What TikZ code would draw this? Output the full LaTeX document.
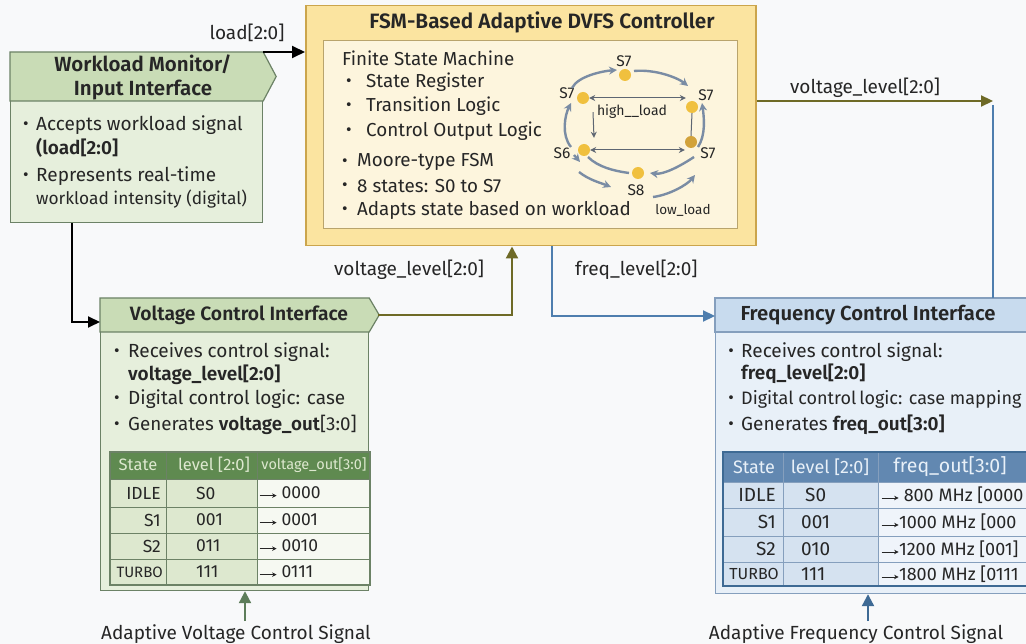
\documentclass[tikz,border=0pt]{standalone}
\usepackage{fontspec}
\setmainfont{Fira Sans}[BoldFont={Fira Sans SemiBold}]
\usetikzlibrary{arrows.meta}

\definecolor{bg}{HTML}{F8F9FA}
\definecolor{txt}{HTML}{262626}
\definecolor{gHead}{HTML}{C9DCB6}
\definecolor{gBody}{HTML}{E6EFDC}
\definecolor{gLine}{HTML}{6C8266}
\definecolor{yOuter}{HTML}{FBE4A0}
\definecolor{yOuterLine}{HTML}{CBA54C}
\definecolor{yInner}{HTML}{FDF5DD}
\definecolor{yInnerLine}{HTML}{B9A46C}
\definecolor{bHead}{HTML}{C8DBEE}
\definecolor{bBody}{HTML}{E8F0F8}
\definecolor{bLine}{HTML}{859FBD}
\definecolor{gTabHead}{HTML}{5F8A50}
\definecolor{gTabCell}{HTML}{DDE8CF}
\definecolor{gTabOut}{HTML}{F6F9F2}
\definecolor{bTabHead}{HTML}{6288B1}
\definecolor{bTabCell}{HTML}{D5E2F0}
\definecolor{bTabOut}{HTML}{EFF4FA}
\definecolor{olive}{HTML}{6E6A26}
\definecolor{wireBlue}{HTML}{4E7EAE}
\definecolor{sigGreen}{HTML}{5D7D5A}
\definecolor{sigBlue}{HTML}{3E6A94}
\definecolor{arcGray}{HTML}{7A8CA4}
\definecolor{fineGray}{HTML}{5E6672}
\definecolor{stateDot}{HTML}{F0C03E}
\definecolor{stateDotDark}{HTML}{D2A23A}

% thin arrow used inside the mapping tables
\newcommand\maparrow{\tikz[baseline=-0.35ex,x=1pt,y=1pt]\draw[line width=0.8pt,-{Stealth[length=4.5pt,width=4.5pt]}] (0,0) -- (17,0);}

\tikzset{
  body/.style={font=\fontsize{19}{22}\selectfont, text=txt, inner sep=0pt, anchor=west},
  fbody/.style={font=\fontsize{18.8}{22}\selectfont, text=txt, inner sep=0pt, anchor=west},
  small/.style={font=\fontsize{17.3}{20}\selectfont, text=txt, inner sep=0pt, anchor=west},
  ttl/.style={font=\fontsize{20.5}{24}\selectfont\bfseries, text=txt, inner sep=0pt, align=center},
  wire/.style={font=\fontsize{19}{22}\selectfont, text=txt, inner sep=0pt},
  bul/.style={font=\fontsize{17}{19}\selectfont, text=txt, inner sep=0pt},
  cell/.style={font=\fontsize{17.5}{20}\selectfont, text=txt, inner sep=0pt},
  bcell/.style={font=\fontsize{19}{22}\selectfont, text=txt, inner sep=0pt},
  ocell/.style={font=\fontsize{18}{21}\selectfont, text=txt, inner sep=0pt, anchor=west},
  hcell/.style={font=\fontsize{16.5}{19}\selectfont, inner sep=0pt},
  dot/.style={circle, minimum size=12pt, inner sep=0pt, fill=stateDot},
  slbl/.style={font=\fontsize{15.5}{18}\selectfont, text=txt, inner sep=0pt},
  arc/.style={draw=arcGray, line width=2.4pt, -{Stealth[length=8pt,width=8pt]}},
  arcplain/.style={draw=arcGray, line width=2.4pt},
  fine/.style={draw=fineGray, line width=1pt},
  finetip/.style={-{Stealth[length=6pt,width=6pt]}},
  bigtip/.style={-{Triangle[length=13pt,width=12pt]}},
}

\begin{document}
\begin{tikzpicture}[x=1pt,y=-1pt]
\useasboundingbox (0,0) rectangle (1026,644);
\clip (0,0) rectangle (1026,644);
\fill[bg] (0,0) rectangle (1026,644);

% ---------------- Workload monitor ----------------
\node[draw=gLine, fill=gBody, line width=1.2pt, minimum width=252pt, minimum height=170pt,
      anchor=north west, inner sep=0pt] (wm) at (10,52) {};
\draw[draw=gLine, fill=gHead, line width=1.2pt]
  (wm.north west) -- (wm.north east) -- ++(13,24.5) -- ++(-13,24.5) -- ([yshift=-49pt]wm.north west) -- cycle;
\node[ttl] (wmh) at (143,77) {Workload Monitor/\\Input Interface};
\node[bul] (wb1) at (26,126) {\textbullet};
\node[body] (wt1) at (36,125) {Accepts workload signal};
\node[body] (wt2) at (36,148) {\textbf{(load[2:0]}};
\node[bul] (wb2) at (26,177) {\textbullet};
\node[body] (wt3) at (36,176) {Represents real-time};
\node[small] (wt4) at (36,199) {workload intensity (digital)};

% ---------------- FSM controller ----------------
\node[draw=yOuterLine, fill=yOuter, line width=1.5pt, minimum width=450pt, minimum height=240pt,
      anchor=north west, inner sep=0pt] (fsm) at (305,5) {};
\node[draw=yInnerLine, fill=yInner, line width=1.2pt, minimum width=414pt, minimum height=188pt,
      anchor=north west, inner sep=0pt] (fsmin) at (323,40) {};
\node[ttl, font=\fontsize{20.8}{24}\selectfont\bfseries] (fsmt) at (542,22) {FSM-Based Adaptive DVFS Controller};
\node[fbody] (f0) at (342,58) {Finite State Machine};
\node[bul] (fb1) at (349,83) {\textbullet};
\node[fbody] (f1) at (366,82) {State Register};
\node[bul] (fb2) at (349,107) {\textbullet};
\node[fbody] (f2) at (366,106) {Transition Logic};
\node[bul] (fb3) at (349,132) {\textbullet};
\node[fbody] (f3) at (366,131) {Control Output Logic};
\node[bul] (fb4) at (345,163) {\textbullet};
\node[fbody] (f4) at (357,162) {Moore-type FSM};
\node[bul] (fb5) at (345,187) {\textbullet};
\node[fbody] (f5) at (357,186) {8 states: S0 to S7};
\node[bul] (fb6) at (345,211) {\textbullet};
\node[fbody] (f6) at (357,210) {Adapts state based on workload};

% state diagram
\node[dot] (n0) at (625,75) {};
\node[dot] (n1) at (583,98) {};
\node[dot] (n2) at (692,107) {};
\node[dot, fill=stateDotDark] (n3) at (691,142) {};
\node[dot] (n4) at (584,150) {};
\node[dot] (n5) at (638,173) {};
\node[slbl] (l0) at (624,61) {S7};
\node[slbl] (l1) at (567,93) {S7};
\node[slbl] (l2) at (706,95) {S7};
\node[slbl] (l3) at (708,153) {S7};
\node[slbl] (l4) at (562,153) {S6};
\node[slbl] (l5) at (636,190) {S8};
\node[slbl, font=\fontsize{14}{16}\selectfont] (hl) at (632,112) {high\_\_load};
\node[slbl, font=\fontsize{13.5}{16}\selectfont] (ll) at (683,210) {low\_load};

\draw[fine, {Stealth[length=6pt,width=6pt]}-{Stealth[length=6pt,width=6pt]}] (n1.east) -- (n1.east -| n2.west);
\draw[fine, finetip] ([shift={(10pt,-8pt)}]n1.south) -- ([shift={(10pt,6pt)}]n4.north);
\draw[fine, {Stealth[length=6pt,width=6pt]}-{Stealth[length=6pt,width=6pt]}] (n4.east) -- (n4.east -| n3.west);
\draw[fine] (n2.south) -- (n3.north);

\draw[arc] ([shift={(-11pt,10pt)}]n1.center) .. controls +(6pt,12pt) and +(-14pt,-1pt) .. ([shift={(-8pt,5pt)}]n0.center);
\draw[arc] ([shift={(9pt,4pt)}]n0.center) .. controls +(22pt,2pt) and +(-10pt,8pt) .. ([shift={(-4pt,21pt)}]n2.center);
\draw[arc] ([shift={(7pt,-5pt)}]n3.center) .. controls +(8pt,12pt) and +(2pt,-14pt) .. ([shift={(10pt,4pt)}]n2.center);
\draw[arc] ([shift={(-13pt,3pt)}]n4.center) .. controls +(-10pt,12pt) and +(-6pt,-12pt) .. ([shift={(-12pt,-5pt)}]n1.center);
\draw[arcplain] ([shift={(4pt,-7pt)}]n4.center) .. controls +(10pt,-10pt) and +(-15pt,2pt) .. ([shift={(-9pt,0pt)}]n5.center);
\draw[arc] ([shift={(-5pt,-22pt)}]n4.center) .. controls +(10pt,-8pt) and +(-10pt,4pt) .. ([shift={(-27pt,-14pt)}]n5.center);
\draw[arc] ([shift={(-10pt,-5pt)}]n4.center) -- ([shift={(-4pt,-12pt)}]n4.center);
\draw[arc] ([shift={(3pt,-15pt)}]n3.center) .. controls +(-12pt,-8pt) and +(14pt,-2pt) .. ([shift={(12pt,0pt)}]n5.center);
\draw[arc] ([shift={(15pt,-24pt)}]n5.center) .. controls +(16pt,2pt) and +(-8pt,-10pt) .. ([shift={(4pt,-33pt)}]n3.center);

% ---------------- Voltage control interface ----------------
\node[draw=gLine, fill=gBody, line width=1.2pt, minimum width=268pt, minimum height=292pt,
      anchor=north west, inner sep=0pt] (vci) at (100,298) {};
\draw[draw=gLine, fill=gHead, line width=1.2pt]
  (vci.north west) -- (vci.north east) -- ++(10,17) -- ++(-10,17) -- ([yshift=-34pt]vci.north west) -- cycle;
\coordinate (vtip) at (378,315);
\node[ttl, font=\fontsize{19.3}{22}\selectfont\bfseries] (vch) at (239,315) {Voltage Control Interface};
\node[bul] (vb1) at (117,353) {\textbullet};
\node[body] (v1) at (128,352) {Receives control signal:};
\node[body] (v2) at (128,375) {\textbf{voltage\_level[2:0]}};
\node[bul] (vb3) at (117,400) {\textbullet};
\node[body] (v3) at (128,399) {Digital control logic: case};
\node[bul] (vb4) at (117,426) {\textbullet};
\node[body, font=\fontsize{18.8}{22}\selectfont] (v4) at (128,425) {Generates \textbf{voltage\_out}[3:0]};

% voltage mapping table
\fill[gTabHead] (110,452) rectangle (370,479);
\fill[gTabCell] (110,479) rectangle (257,585);
\fill[gTabOut] (257,479) rectangle (370,585);
\foreach \yy in {479,507,533,559} \draw[gLine, line width=0.9pt] (110,\yy) -- (370,\yy);
\foreach \xx in {166,257} \draw[gLine, line width=0.9pt] (\xx,452) -- (\xx,585);
\draw[gLine, line width=1.2pt] (110,452) rectangle (370,585);
\node[hcell, text=gTabCell] (vh1) at (138,465) {State};
\node[hcell, text=gTabCell] (vh2) at (214,465) {level [2:0]};
\node[hcell, text=gTabCell, font=\fontsize{14.5}{17}\selectfont] (vh3) at (314,465) {voltage\_out[3:0]};
\node[cell, anchor=east] (vs1) at (161,493) {IDLE};
\node[cell, anchor=east] (vs2) at (161,520) {S1};
\node[cell, anchor=east] (vs3) at (161,546) {S2};
\node[cell, anchor=east, font=\fontsize{15}{17}\selectfont] (vs4) at (163,572) {TURBO};
\node[cell, anchor=west] (vl1) at (196,493) {S0};
\node[cell, anchor=west] (vl2) at (196,520) {001};
\node[cell, anchor=west] (vl3) at (196,546) {011};
\node[cell, anchor=west] (vl4) at (196,572) {111};
\node[cell, anchor=west] (vo1) at (259,493) {\maparrow\ 0000};
\node[cell, anchor=west] (vo2) at (259,520) {\maparrow\ 0001};
\node[cell, anchor=west] (vo3) at (259,546) {\maparrow\ 0010};
\node[cell, anchor=west] (vo4) at (259,572) {\maparrow\ 0111};

\node[wire] (vsig) at (236,634) {Adaptive Voltage Control Signal};
\coordinate (vsigtop) at (245,621);
\draw[sigGreen, line width=2.2pt, -{Triangle[length=12pt,width=12pt]}] (vsigtop) -- (vsigtop |- vci.south);

% ---------------- Frequency control interface ----------------
\node[draw=bLine, fill=bBody, line width=1.2pt, minimum width=320pt, minimum height=295pt,
      anchor=north west, inner sep=0pt] (fci) at (715,298) {};
\draw[draw=bLine, fill=bHead, line width=1.2pt] (fci.north west) rectangle ([yshift=-34pt]fci.north east);
\node[ttl, font=\fontsize{20.3}{23}\selectfont\bfseries] (fch) at (868,315) {Frequency Control Interface};
\node[bul] (qb1) at (731,353) {\textbullet};
\node[body] (q1) at (741,352) {Receives control signal:};
\node[body] (q2) at (741,374) {\textbf{freq\_level[2:0]}};
\node[bul] (qb3) at (731,400) {\textbullet};
\node[body, font=\fontsize{18}{21}\selectfont] (q3) at (741,399) {Digital control\,logic: case mapping};
\node[bul] (qb4) at (731,426) {\textbullet};
\node[body] (q4) at (741,425) {Generates \textbf{freq\_out[3:0]}};

% frequency mapping table
\fill[bTabHead] (723,452) rectangle (1040,482);
\fill[bTabCell] (723,482) rectangle (878,586);
\fill[bTabOut] (878,482) rectangle (1040,586);
\foreach \yy in {482,508,536,562} \draw[bLine, line width=0.9pt] (723,\yy) -- (1040,\yy);
\foreach \xx in {783,878} \draw[bLine, line width=0.9pt] (\xx,452) -- (\xx,586);
\draw[sigBlue, line width=1.2pt] (723,452) rectangle (1040,586);
\node[hcell, text=bBody, font=\fontsize{18}{21}\selectfont] (qh1) at (754,467) {State};
\node[hcell, text=bBody, font=\fontsize{18}{21}\selectfont] (qh2) at (830,467) {level [2:0]};
\node[hcell, text=bBody, font=\fontsize{19.5}{22}\selectfont] (qh3) at (950,467) {freq\_out[3:0]};
\node[bcell, anchor=east] (qs1) at (776,495) {IDLE};
\node[bcell, anchor=east] (qs2) at (776,522) {S1};
\node[bcell, anchor=east] (qs3) at (776,549) {S2};
\node[bcell, anchor=east, font=\fontsize{16}{18}\selectfont] (qs4) at (779,574) {TURBO};
\node[bcell, anchor=west] (ql1) at (805,495) {S0};
\node[bcell, anchor=west] (ql2) at (801,522) {001};
\node[bcell, anchor=west] (ql3) at (801,549) {010};
\node[bcell, anchor=west] (ql4) at (801,574) {111};
\node[ocell] (qo1) at (881,495) {\maparrow\ 800 MHz [0000};
\node[ocell] (qo2) at (881,522) {\maparrow1000 MHz [000};
\node[ocell] (qo3) at (881,549) {\maparrow1200 MHz [001]};
\node[ocell] (qo4) at (881,574) {\maparrow1800 MHz [0111};

\node[wire] (fsig) at (856,634) {Adaptive Frequency Control Signal};
\coordinate (fsigtop) at (868,621);
\draw[sigBlue, line width=2.2pt, -{Triangle[length=12pt,width=12pt]}] (fsigtop) -- (fsigtop |- fci.south);

% ---------------- Signal wires ----------------
\draw[black, line width=2pt, bigtip] (wm.north east) -- (wm.north east -| fsm.west);
\node[wire] (loadlbl) at (247,33) {load[2:0]};

\draw[black, line width=2pt, -{Triangle[length=12pt,width=11pt]}]
  ([xshift=62pt]wm.south west) |- ([yshift=-24pt]vci.north west);

\draw[olive, line width=2.2pt, -{Triangle[length=12pt,width=12pt]}]
  (vtip) -| ([xshift=207pt]fsm.south west);
\node[wire, anchor=west] (vlvl) at (334,270) {voltage\_level[2:0]};

\draw[wireBlue, line width=2.2pt, -{Triangle[length=12pt,width=11pt]}]
  ([xshift=247pt]fsm.south west) |- ([yshift=-18pt]fci.north west);
\node[wire, anchor=west] (flvl) at (575,270) {freq\_level[2:0]};

\coordinate (vout) at (993,101);
\draw[olive, line width=2.2pt, -{Triangle[length=12pt,width=11pt]}]
  (vout -| fsm.east) -- (vout);
\draw[wireBlue, line width=2.2pt] ([yshift=-4pt]vout) -- (vout |- fci.north);
\node[wire, anchor=west] (vlvl2) at (790,88) {voltage\_level[2:0]};
\end{tikzpicture}
\end{document}
